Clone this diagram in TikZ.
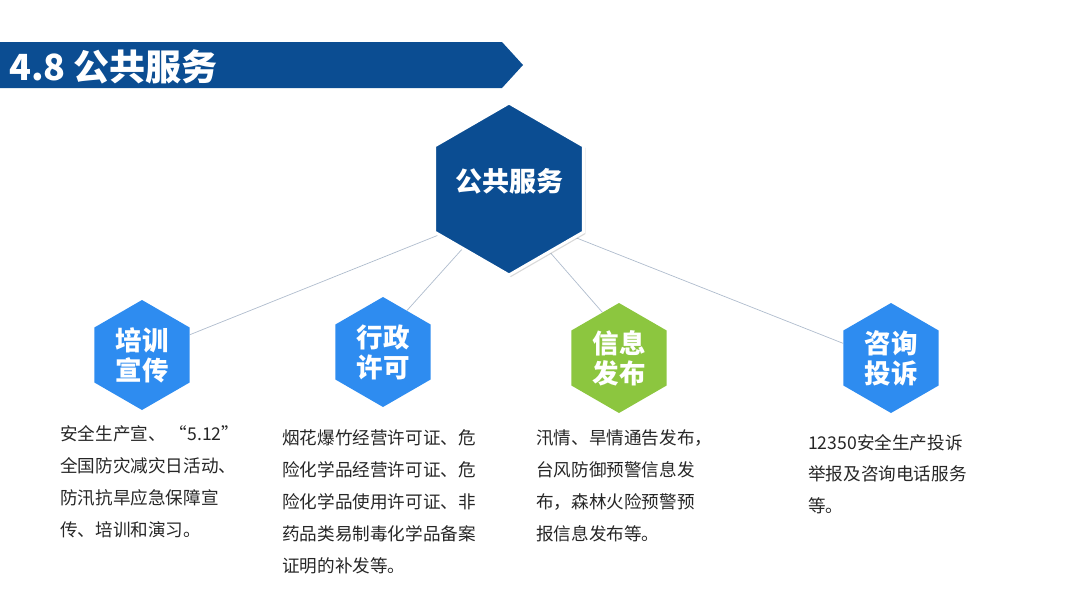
\documentclass[tikz,border=0pt]{standalone}
\usepackage{fontspec}
\setmainfont{Noto Sans CJK SC}
\usetikzlibrary{shapes.geometric,shadows}
\definecolor{navy}{RGB}{11,77,146}
\definecolor{skyb}{RGB}{46,140,240}
\definecolor{leaf}{RGB}{140,198,63}
\definecolor{bodytxt}{RGB}{38,38,38}
\definecolor{linkc}{RGB}{175,188,205}
\pgfdeclarelayer{bg}
\pgfsetlayers{bg,main}
\begin{document}
\begin{tikzpicture}[x=1pt,y=-1pt,
  hexshape/.style={regular polygon,regular polygon sides=6,shape border rotate=30,inner sep=0pt},
  bighex/.style={hexshape,minimum size=172pt,fill=navy,draw=white,line width=3pt,
    drop shadow={shadow xshift=2pt,shadow yshift=-2pt,opacity=0.25,fill=black!60}},
  smallhex/.style={hexshape,minimum size=110pt,text=white,align=center,
    font=\fontsize{26.5}{30}\selectfont\bfseries},
  bodytext/.style={anchor=north west,inner sep=0pt,align=left,text=bodytxt,
    font=\fontsize{17.6}{32}\selectfont},
  link/.style={draw=linkc,line width=0.7pt}]
\useasboundingbox (0,0) rectangle (1080,608);
% header banner
\fill[navy] (0,42) -- (502,42) -- (523,65) -- (502,88) -- (0,88) -- cycle;
\node[anchor=base west,inner sep=0pt,text=white,font=\fontsize{36}{40}\selectfont\bfseries] (title) at (9,80) {4.8 公共服务};
% central hexagon
\node[bighex] (core) at (509,189) {};
\node[text=white,font=\fontsize{27}{30}\selectfont\bfseries,inner sep=0pt] (coretext) at (509,181) {公共服务};
% small hexagons
\node[smallhex,fill=skyb] (h1) at (142,355) {培训\\宣传};
\node[smallhex,fill=skyb] (h2) at (383,352) {行政\\许可};
\node[smallhex,fill=leaf] (h3) at (619,358) {信息\\发布};
\node[smallhex,fill=skyb] (h4) at (891,358) {咨询\\投诉};
% connectors
\begin{pgfonlayer}{bg}
\draw[link] (core.213) -- (h1.23);
\draw[link] (core.232) -- (h2.60);
\draw[link] (core.303) -- (h3.110);
\draw[link] (core.324) -- (h4.163);
\end{pgfonlayer}
% descriptions
\node[bodytext] (t1) at (60,425) {安全生产宣、 “5.12”\\全国防灾减灾日活动、\\防汛抗旱应急保障宣\\传、培训和演习。};
\node[bodytext] (t2) at (282,429) {烟花爆竹经营许可证、危\\险化学品经营许可证、危\\险化学品使用许可证、非\\药品类易制毒化学品备案\\证明的补发等。};
\node[bodytext] (t3) at (536,429) {汛情、旱情通告发布，\\台风防御预警信息发\\布，森林火险预警预\\报信息发布等。};
\node[bodytext,font=\fontsize{17.6}{31.5}\selectfont] (t4) at (808,434) {12350安全生产投诉\\举报及咨询电话服务\\等。};
\end{tikzpicture}
\end{document}
